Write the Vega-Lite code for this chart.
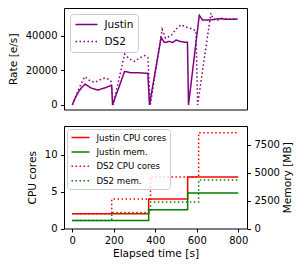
{
  "$schema": "https://vega.github.io/schema/vega-lite/v6.json",
  "padding": {"left": 7, "top": 7, "right": 0, "bottom": 0},
  "spacing": 14,
  "resolve": {"scale": {"color": "independent", "strokeDash": "independent"}, "legend": {"color": "independent", "strokeDash": "independent"}},
  "config": {
    "font": "DejaVu Sans",
    "view": {"stroke": "black", "strokeWidth": 1},
    "axis": {"grid": false, "domain": false, "tickColor": "black", "tickSize": 3.5, "labelPadding": 3.5, "labelFontSize": 10, "titleFontSize": 10.6, "titleFontWeight": "normal", "labelColor": "black", "titleColor": "black", "titlePadding": 7, "labelFont": "DejaVu Sans", "titleFont": "DejaVu Sans"},
    "legend": {"fillColor": "rgba(255,255,255,0.8)", "strokeColor": "#cccccc", "cornerRadius": 3, "symbolStrokeWidth": 1.5, "labelColor": "black", "labelFont": "DejaVu Sans"}
  },
  "datasets": {
    "rate": [
      {"t": 0, "rate": 0, "alg": "Justin"},
      {"t": 15, "rate": 4200, "alg": "Justin"},
      {"t": 30, "rate": 7600, "alg": "Justin"},
      {"t": 45, "rate": 10000, "alg": "Justin"},
      {"t": 62, "rate": 12000, "alg": "Justin"},
      {"t": 91, "rate": 9700, "alg": "Justin"},
      {"t": 123, "rate": 8600, "alg": "Justin"},
      {"t": 155, "rate": 9700, "alg": "Justin"},
      {"t": 182, "rate": 11000, "alg": "Justin"},
      {"t": 190, "rate": 11000, "alg": "Justin"},
      {"t": 194, "rate": 0, "alg": "Justin"},
      {"t": 252, "rate": 19300, "alg": "Justin"},
      {"t": 280, "rate": 18600, "alg": "Justin"},
      {"t": 320, "rate": 18500, "alg": "Justin"},
      {"t": 364, "rate": 18200, "alg": "Justin"},
      {"t": 372, "rate": 0, "alg": "Justin"},
      {"t": 428, "rate": 38900, "alg": "Justin"},
      {"t": 444, "rate": 36000, "alg": "Justin"},
      {"t": 468, "rate": 36600, "alg": "Justin"},
      {"t": 484, "rate": 36000, "alg": "Justin"},
      {"t": 500, "rate": 37400, "alg": "Justin"},
      {"t": 520, "rate": 36600, "alg": "Justin"},
      {"t": 540, "rate": 36200, "alg": "Justin"},
      {"t": 555, "rate": 36200, "alg": "Justin"},
      {"t": 560, "rate": 0, "alg": "Justin"},
      {"t": 612, "rate": 51700, "alg": "Justin"},
      {"t": 628, "rate": 49000, "alg": "Justin"},
      {"t": 652, "rate": 48900, "alg": "Justin"},
      {"t": 676, "rate": 49200, "alg": "Justin"},
      {"t": 708, "rate": 49800, "alg": "Justin"},
      {"t": 740, "rate": 49400, "alg": "Justin"},
      {"t": 796, "rate": 49400, "alg": "Justin"},
      {"t": 0, "rate": 0, "alg": "DS2"},
      {"t": 20, "rate": 6000, "alg": "DS2"},
      {"t": 40, "rate": 11500, "alg": "DS2"},
      {"t": 60, "rate": 16300, "alg": "DS2"},
      {"t": 84, "rate": 14000, "alg": "DS2"},
      {"t": 108, "rate": 13000, "alg": "DS2"},
      {"t": 132, "rate": 14400, "alg": "DS2"},
      {"t": 156, "rate": 15500, "alg": "DS2"},
      {"t": 177, "rate": 14700, "alg": "DS2"},
      {"t": 187, "rate": 13500, "alg": "DS2"},
      {"t": 197, "rate": 0, "alg": "DS2"},
      {"t": 252, "rate": 29300, "alg": "DS2"},
      {"t": 276, "rate": 26400, "alg": "DS2"},
      {"t": 300, "rate": 25100, "alg": "DS2"},
      {"t": 324, "rate": 27000, "alg": "DS2"},
      {"t": 348, "rate": 28400, "alg": "DS2"},
      {"t": 364, "rate": 27400, "alg": "DS2"},
      {"t": 376, "rate": 0, "alg": "DS2"},
      {"t": 433, "rate": 43500, "alg": "DS2"},
      {"t": 449, "rate": 38500, "alg": "DS2"},
      {"t": 476, "rate": 39900, "alg": "DS2"},
      {"t": 500, "rate": 43700, "alg": "DS2"},
      {"t": 524, "rate": 46200, "alg": "DS2"},
      {"t": 548, "rate": 45000, "alg": "DS2"},
      {"t": 580, "rate": 43700, "alg": "DS2"},
      {"t": 596, "rate": 42700, "alg": "DS2"},
      {"t": 604, "rate": 0, "alg": "DS2"},
      {"t": 668, "rate": 52900, "alg": "DS2"},
      {"t": 679, "rate": 49400, "alg": "DS2"},
      {"t": 700, "rate": 48900, "alg": "DS2"},
      {"t": 724, "rate": 50000, "alg": "DS2"},
      {"t": 756, "rate": 49400, "alg": "DS2"},
      {"t": 796, "rate": 49800, "alg": "DS2"}
    ],
    "cpu": [
      {"t": 0, "v": 2, "series": "Justin CPU cores"},
      {"t": 368, "v": 4, "series": "Justin CPU cores"},
      {"t": 556, "v": 7, "series": "Justin CPU cores"},
      {"t": 800, "v": 7, "series": "Justin CPU cores"},
      {"t": 0, "v": 2, "series": "DS2 CPU cores"},
      {"t": 190, "v": 4, "series": "DS2 CPU cores"},
      {"t": 377, "v": 7, "series": "DS2 CPU cores"},
      {"t": 609, "v": 13, "series": "DS2 CPU cores"},
      {"t": 800, "v": 13, "series": "DS2 CPU cores"}
    ],
    "mem": [
      {"t": 0, "v": 720, "series": "Justin mem."},
      {"t": 368, "v": 1680, "series": "Justin mem."},
      {"t": 556, "v": 3180, "series": "Justin mem."},
      {"t": 800, "v": 3180, "series": "Justin mem."},
      {"t": 0, "v": 720, "series": "DS2 mem."},
      {"t": 190, "v": 1440, "series": "DS2 mem."},
      {"t": 377, "v": 2370, "series": "DS2 mem."},
      {"t": 609, "v": 4350, "series": "DS2 mem."},
      {"t": 800, "v": 4350, "series": "DS2 mem."}
    ]
  },
  "vconcat": [
    {
      "width": 183,
      "height": 101.5,
      "layer": [
        {
          "data": {"name": "rate"},
          "mark": {"type": "line", "strokeWidth": 1.5},
          "encoding": {
            "x": {"field": "t", "type": "quantitative", "scale": {"domain": [-40, 842], "nice": false, "zero": false}, "axis": null},
            "y": {"field": "rate", "type": "quantitative", "scale": {"domain": [-2660, 55900], "nice": false, "zero": false}, "axis": {"values": [0, 20000, 40000], "format": "d", "title": "Rate [e/s]"}},
            "color": {"field": "alg", "type": "nominal", "scale": {"domain": ["Justin", "DS2"], "range": ["#800080", "#800080"]}, "legend": {"title": null, "orient": "top-left", "offset": 6, "labelFontSize": 10.5, "symbolType": "M-1,0H3.4", "symbolSize": 100, "labelOffset": 18, "padding": 4.5, "rowPadding": 5}},
            "strokeDash": {"field": "alg", "type": "nominal", "scale": {"domain": ["Justin", "DS2"], "range": [[1, 0], [1.5, 2.5]]}, "legend": {"title": null, "orient": "top-left", "offset": 6, "labelFontSize": 10.5, "symbolType": "M-1,0H3.4", "symbolSize": 100, "labelOffset": 18, "padding": 4.5, "rowPadding": 5}},
            "order": {"field": "t", "type": "quantitative"}
          }
        },
        {
          "mark": {"type": "rule", "color": "#1f77b4", "strokeDash": [5.5, 2.4], "strokeWidth": 1.5},
          "encoding": {"y": {"datum": 50000, "type": "quantitative"}}
        }
      ]
    },
    {
      "width": 183,
      "height": 102.5,
      "layer": [
        {
          "data": {"name": "cpu"},
          "mark": {"type": "line", "interpolate": "step-after", "strokeWidth": 1.5},
          "encoding": {
            "x": {"field": "t", "type": "quantitative", "scale": {"domain": [-40, 842], "nice": false, "zero": false}, "axis": {"values": [0, 200, 400, 600, 800], "title": "Elapsed time [s]", "titlePadding": 3}},
            "y": {"field": "v", "type": "quantitative", "scale": {"domain": [0, 13.9], "nice": false}, "axis": {"values": [0, 5, 10], "title": "CPU cores"}},
            "color": {"field": "series", "type": "nominal", "scale": {"domain": ["Justin CPU cores", "Justin mem.", "DS2 CPU cores", "DS2 mem."], "range": ["#ff0000", "#008000", "#ff0000", "#008000"]}, "legend": {"title": null, "orient": "top-left", "offset": 3, "labelFontSize": 8.6, "symbolType": "M-1,0H3.5", "symbolSize": 64, "labelOffset": 16, "padding": 3.5, "rowPadding": 4.4}},
            "strokeDash": {"field": "series", "type": "nominal", "scale": {"domain": ["Justin CPU cores", "Justin mem.", "DS2 CPU cores", "DS2 mem."], "range": [[1, 0], [1, 0], [1.5, 2.5], [1.5, 2.5]]}, "legend": {"title": null, "orient": "top-left", "offset": 3, "labelFontSize": 8.6, "symbolType": "M-1,0H3.5", "symbolSize": 64, "labelOffset": 16, "padding": 3.5, "rowPadding": 4.4}}
          }
        },
        {
          "data": {"name": "mem"},
          "mark": {"type": "line", "interpolate": "step-after", "strokeWidth": 1.5},
          "encoding": {
            "x": {"field": "t", "type": "quantitative"},
            "y": {"field": "v", "type": "quantitative", "scale": {"domain": [0, 9180], "nice": false}, "axis": {"orient": "right", "values": [0, 2500, 5000, 7500], "format": "d", "title": "Memory [MB]", "titleAngle": 270, "titleBaseline": "top", "titlePadding": 3}},
            "color": {"field": "series", "type": "nominal"},
            "strokeDash": {"field": "series", "type": "nominal"}
          }
        }
      ],
      "resolve": {"scale": {"y": "independent"}}
    }
  ]
}
